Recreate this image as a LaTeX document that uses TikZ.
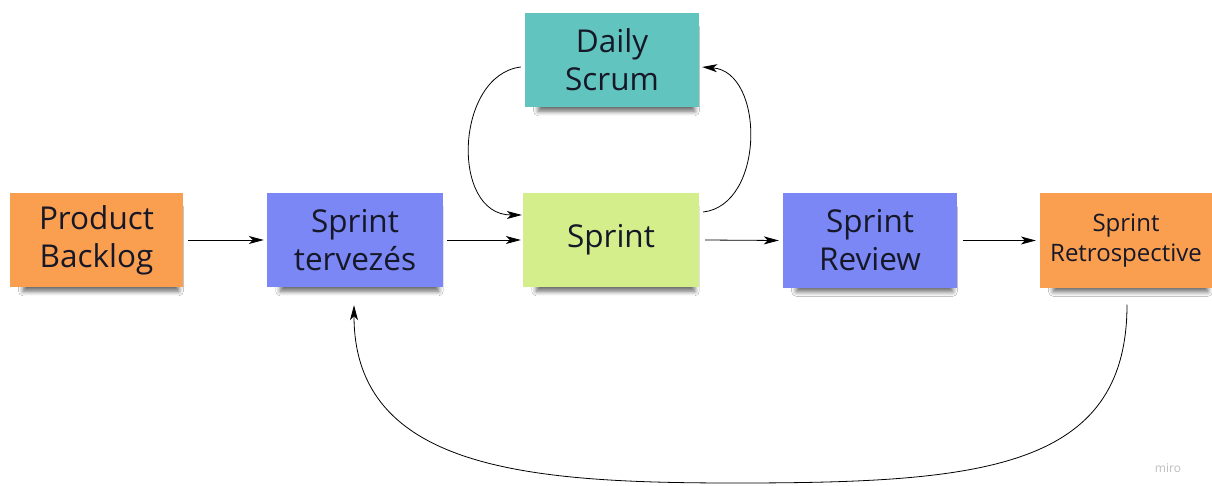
\documentclass[tikz,border=0pt]{standalone}
\usepackage{fontspec}
\setmainfont{Open Sans}
\usetikzlibrary{arrows.meta,shadows.blur}
\definecolor{cOrange}{RGB}{250,158,80}
\definecolor{cBlue}{RGB}{122,135,245}
\definecolor{cTeal}{RGB}{98,196,190}
\definecolor{cGreen}{RGB}{212,238,140}
\definecolor{cText}{RGB}{22,24,40}
\tikzset{
  sticky/.style={draw=none, minimum height=94pt, minimum width=174pt, inner sep=2pt,
    align=center, text=cText, font=\fontsize{31.5}{38}\selectfont,
    blur shadow={shadow xshift=5pt, shadow yshift=-10pt, shadow scale=0.9, shadow blur steps=7, shadow blur radius=5pt, shadow opacity=60}},
  conn/.style={draw=black, line width=0.8pt, -{Stealth[length=15pt,width=8pt,inset=4pt]}},
}
\begin{document}
\begin{tikzpicture}[x=1pt,y=-1pt]
\useasboundingbox[fill=white] (0,0) rectangle (1212,486);
\node[sticky, fill=cOrange, minimum width=173pt] (pb) at (96.5,240) {Product\\Backlog};
\node[sticky, fill=cBlue, minimum width=176pt] (st) at (355,240) {Sprint\\tervezés};
\node[sticky, fill=cTeal] (ds) at (612,60) {Daily\\Scrum};
\node[sticky, fill=cGreen, minimum width=176pt] (sp) at (611,240) {Sprint};
\node[sticky, fill=cBlue] (sr) at (870,240.5) {Sprint\\Review};
\node[sticky, fill=cOrange, minimum width=172pt, font=\fontsize{24}{30}\selectfont] (re) at (1126,240.5) {Sprint\\Retrospective};
\node[text=black!25, font=\fontsize{12}{14}\selectfont] (miro) at (1168,468) {miro};

\draw[conn] ([xshift=5pt]pb.east) -- ([xshift=-3pt]st.west);
\draw[conn] ([xshift=4pt]st.east) -- ([xshift=-2pt]sp.west);
\draw[conn] ([xshift=6pt]sp.east) -- ([xshift=-4pt]sr.west);
\draw[conn] ([xshift=6pt]sr.east) -- ([xshift=-4pt]re.west);

\coordinate (dsl) at ([xshift=-4pt,yshift=-7pt]ds.west);
\coordinate (spl) at ([xshift=-1pt,yshift=25pt]sp.west);
\draw[conn] (dsl) .. controls (455,75) and (450,215) .. (spl);

\coordinate (spr) at ([xshift=4pt,yshift=28pt]sp.east);
\coordinate (dsr) at ([xshift=3pt,yshift=-7pt]ds.east);
\draw[conn] (spr) .. controls (765,205) and (765,72) .. (dsr);

\coordinate (reb) at ([xshift=1pt,yshift=-17pt]re.south);
\coordinate (stb) at ([xshift=-1pt,yshift=-18pt]st.south);
\coordinate (bot) at (735,483);
\draw[conn] (reb) .. controls (1127,470) and (980,483) .. (bot)
  .. controls (530,483) and (354,470) .. (stb);
\end{tikzpicture}
\end{document}
